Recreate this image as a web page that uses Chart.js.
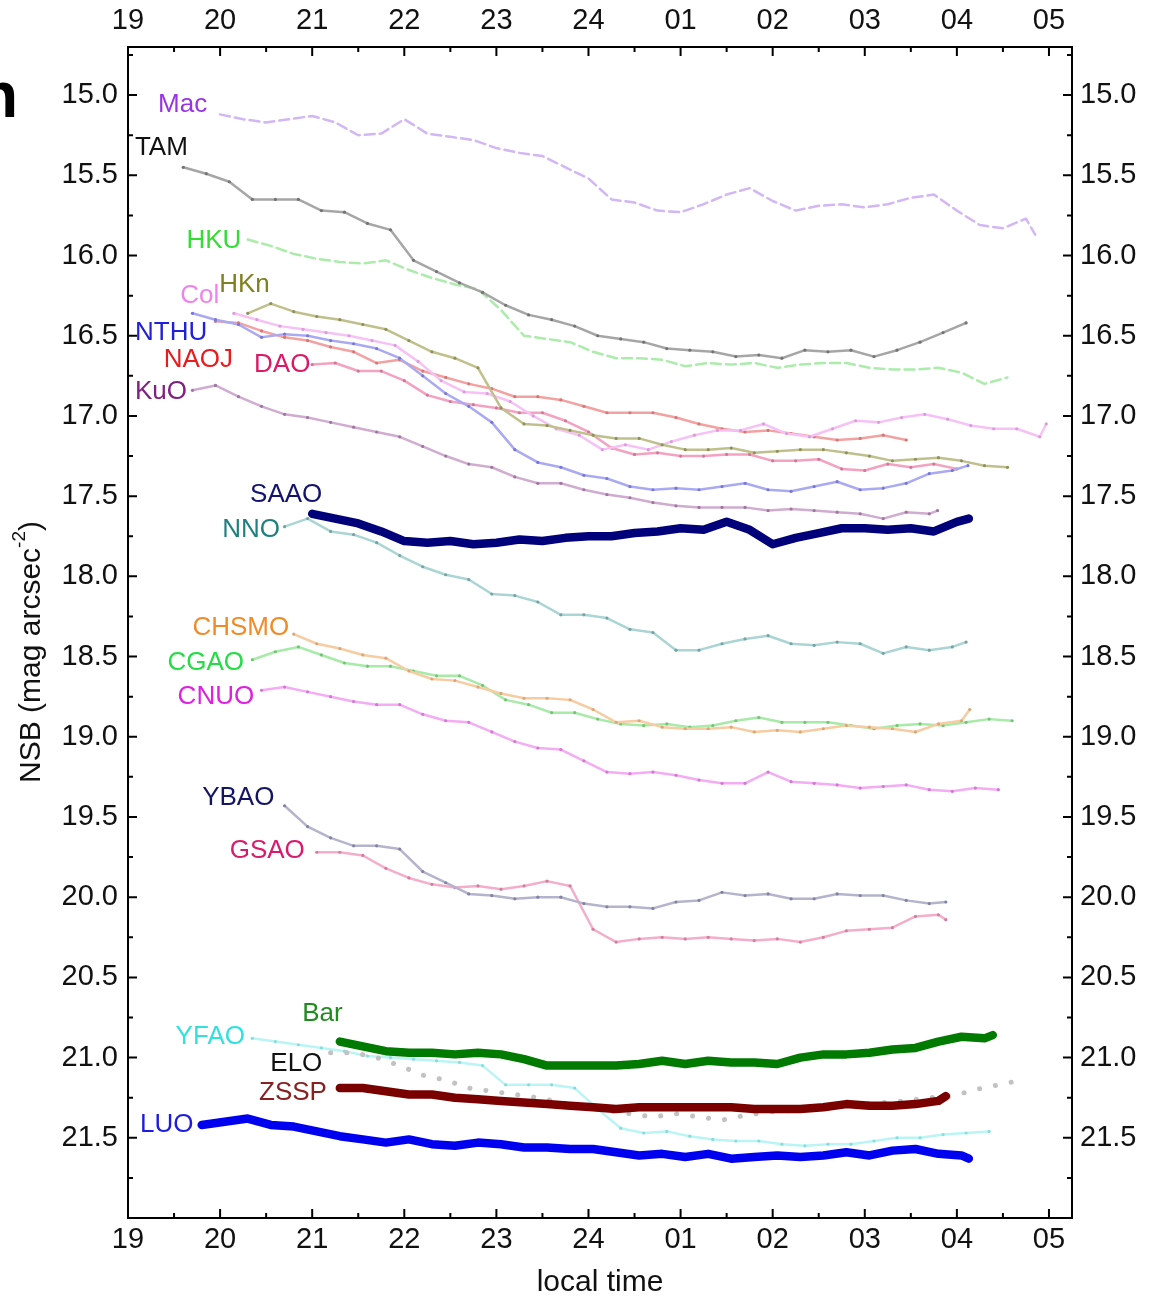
<!DOCTYPE html>
<html>
<head>
<meta charset="utf-8">
<script src="https://cdn.jsdelivr.net/npm/chart.js@4.4.1/dist/chart.umd.min.js"></script>
<style>
  html, body { margin: 0; padding: 0; background: #fff; }
  canvas { display: block; }
</style>
</head>
<body>
<canvas id="nsbChart" width="1153" height="1297"></canvas>
<script>
// local time in hours, 24 = midnight, 25 = 01 ...
const X_TICKS = [19, 20, 21, 22, 23, 24, 25, 26, 27, 28, 29];
const X_TICK_LABELS = ['19', '20', '21', '22', '23', '24', '01', '02', '03', '04', '05'];
const X_MINOR = [19.5, 20.5, 21.5, 22.5, 23.5, 24.5, 25.5, 26.5, 27.5, 28.5];
const Y_TICKS = [15.0, 15.5, 16.0, 16.5, 17.0, 17.5, 18.0, 18.5, 19.0, 19.5, 20.0, 20.5, 21.0, 21.5];
const Y_MINOR = [14.75, 15.25, 15.75, 16.25, 16.75, 17.25, 17.75, 18.25, 18.75, 19.25, 19.75, 20.25, 20.75, 21.25, 21.75];

const STEP = 0.25; // readings every quarter hour from the start time

const MAC = [15.12, 15.15, 15.17, 15.15, 15.13, 15.17, 15.25, 15.24, 15.15, 15.24, 15.26, 15.28, 15.33, 15.36, 15.38, 15.45, 15.52, 15.65, 15.67, 15.72, 15.73, 15.68, 15.62, 15.58, 15.66, 15.72, 15.69, 15.68, 15.70, 15.68, 15.64, 15.62, 15.72, 15.81, 15.83, 15.77, 15.87];
const TAM = [15.45, 15.49, 15.54, 15.65, 15.65, 15.65, 15.72, 15.73, 15.80, 15.84, 16.03, 16.10, 16.17, 16.23, 16.31, 16.37, 16.40, 16.44, 16.50, 16.52, 16.54, 16.58, 16.59, 16.60, 16.63, 16.62, 16.64, 16.59, 16.60, 16.59, 16.63, 16.59, 16.54, 16.48, 16.42];
const HKU = [15.90, 15.94, 15.99, 16.02, 16.04, 16.05, 16.03, 16.09, 16.14, 16.18, 16.21, 16.34, 16.50, 16.52, 16.54, 16.60, 16.64, 16.64, 16.65, 16.69, 16.67, 16.68, 16.67, 16.70, 16.68, 16.67, 16.67, 16.70, 16.71, 16.71, 16.70, 16.73, 16.80, 16.76];
const HKN = [16.36, 16.30, 16.35, 16.38, 16.40, 16.43, 16.46, 16.53, 16.60, 16.64, 16.70, 16.95, 17.05, 17.06, 17.09, 17.12, 17.14, 17.14, 17.18, 17.21, 17.21, 17.20, 17.23, 17.22, 17.21, 17.21, 17.23, 17.25, 17.28, 17.27, 17.26, 17.28, 17.31, 17.32];
const COL = [16.36, 16.40, 16.44, 16.46, 16.48, 16.50, 16.53, 16.56, 16.66, 16.78, 16.85, 16.86, 16.91, 17.00, 17.08, 17.12, 17.21, 17.18, 17.21, 17.16, 17.12, 17.09, 17.09, 17.05, 17.11, 17.13, 17.08, 17.03, 17.04, 17.01, 16.99, 17.02, 17.06, 17.08, 17.08, 17.13, 17.05];
const NTHU = [16.36, 16.40, 16.43, 16.51, 16.49, 16.50, 16.53, 16.55, 16.58, 16.64, 16.75, 16.86, 16.94, 17.04, 17.21, 17.29, 17.32, 17.37, 17.39, 17.44, 17.46, 17.45, 17.46, 17.44, 17.42, 17.46, 17.47, 17.44, 17.41, 17.46, 17.45, 17.42, 17.36, 17.34, 17.31];
const NAOJ = [16.41, 16.42, 16.47, 16.51, 16.53, 16.57, 16.60, 16.67, 16.65, 16.72, 16.76, 16.80, 16.83, 16.88, 16.88, 16.90, 16.94, 16.98, 16.98, 16.98, 17.01, 17.05, 17.08, 17.10, 17.09, 17.11, 17.13, 17.15, 17.14, 17.12, 17.15];
const DAO = [16.68, 16.67, 16.72, 16.72, 16.78, 16.87, 16.91, 16.93, 16.95, 16.98, 16.98, 17.03, 17.10, 17.20, 17.24, 17.23, 17.25, 17.25, 17.24, 17.24, 17.28, 17.28, 17.27, 17.33, 17.34, 17.30, 17.32, 17.30, 17.33];
const KUO = [16.84, 16.81, 16.88, 16.94, 16.99, 17.01, 17.04, 17.07, 17.10, 17.13, 17.19, 17.25, 17.30, 17.32, 17.38, 17.42, 17.42, 17.46, 17.49, 17.51, 17.54, 17.56, 17.57, 17.57, 17.57, 17.59, 17.58, 17.59, 17.60, 17.61, 17.64, 17.60, 17.61, 17.59];
const SAAO = [17.61, 17.64, 17.67, 17.72, 17.78, 17.79, 17.78, 17.80, 17.79, 17.77, 17.78, 17.76, 17.75, 17.75, 17.73, 17.72, 17.70, 17.71, 17.66, 17.71, 17.80, 17.76, 17.73, 17.70, 17.70, 17.71, 17.70, 17.72, 17.66, 17.64];
const NNO = [17.69, 17.64, 17.72, 17.74, 17.79, 17.87, 17.94, 17.99, 18.02, 18.11, 18.12, 18.16, 18.24, 18.24, 18.26, 18.33, 18.35, 18.46, 18.46, 18.42, 18.39, 18.37, 18.42, 18.43, 18.41, 18.42, 18.48, 18.44, 18.46, 18.44, 18.41];
const CHSMO = [18.36, 18.42, 18.45, 18.49, 18.51, 18.59, 18.64, 18.65, 18.69, 18.73, 18.76, 18.76, 18.77, 18.83, 18.91, 18.90, 18.94, 18.95, 18.95, 18.94, 18.97, 18.96, 18.97, 18.95, 18.93, 18.94, 18.95, 18.97, 18.92, 18.90, 18.83];
const CGAO = [18.52, 18.47, 18.44, 18.49, 18.54, 18.56, 18.56, 18.59, 18.62, 18.62, 18.68, 18.77, 18.80, 18.85, 18.85, 18.89, 18.92, 18.93, 18.92, 18.94, 18.93, 18.90, 18.88, 18.91, 18.91, 18.91, 18.93, 18.95, 18.93, 18.92, 18.93, 18.91, 18.89, 18.90];
const CNUO = [18.71, 18.69, 18.72, 18.75, 18.78, 18.80, 18.80, 18.86, 18.90, 18.91, 18.97, 19.03, 19.07, 19.08, 19.15, 19.22, 19.23, 19.22, 19.24, 19.27, 19.29, 19.29, 19.22, 19.28, 19.29, 19.30, 19.32, 19.31, 19.30, 19.33, 19.34, 19.32, 19.33];
const YBAO = [19.43, 19.56, 19.63, 19.68, 19.68, 19.70, 19.84, 19.91, 19.98, 19.99, 20.01, 20.00, 20.00, 20.04, 20.06, 20.06, 20.07, 20.03, 20.02, 19.97, 19.99, 19.98, 20.01, 20.01, 19.98, 19.99, 19.99, 20.02, 20.04, 20.03];
const GSAO = [19.72, 19.72, 19.74, 19.82, 19.88, 19.92, 19.94, 19.93, 19.95, 19.93, 19.90, 19.93, 20.20, 20.28, 20.26, 20.25, 20.26, 20.25, 20.26, 20.27, 20.26, 20.28, 20.25, 20.21, 20.20, 20.19, 20.12, 20.11, 20.14];
const BAR = [20.90, 20.93, 20.96, 20.97, 20.97, 20.98, 20.97, 20.98, 21.01, 21.05, 21.05, 21.05, 21.05, 21.04, 21.02, 21.04, 21.02, 21.03, 21.03, 21.04, 21.00, 20.98, 20.98, 20.97, 20.95, 20.94, 20.90, 20.87, 20.88, 20.86];
const ELO = [20.97, 20.97, 21.00, 21.05, 21.11, 21.14, 21.19, 21.21, 21.23, 21.25, 21.28, 21.31, 21.33, 21.35, 21.37, 21.35, 21.37, 21.39, 21.36, 21.34, 21.33, 21.31, 21.30, 21.29, 21.28, 21.27, 21.25, 21.24, 21.20, 21.17, 21.14];
const ZSSP = [21.19, 21.19, 21.21, 21.23, 21.23, 21.25, 21.26, 21.27, 21.28, 21.29, 21.30, 21.31, 21.32, 21.31, 21.31, 21.31, 21.31, 21.31, 21.32, 21.32, 21.32, 21.31, 21.29, 21.30, 21.30, 21.29, 21.27, 21.24];
const YFAO = [20.88, 20.90, 20.92, 20.94, 20.96, 20.99, 21.00, 21.01, 21.02, 21.03, 21.05, 21.17, 21.17, 21.17, 21.19, 21.32, 21.44, 21.47, 21.46, 21.49, 21.51, 21.52, 21.52, 21.54, 21.55, 21.54, 21.54, 21.52, 21.50, 21.50, 21.48, 21.47, 21.46];
const LUO = [21.42, 21.40, 21.38, 21.42, 21.43, 21.46, 21.49, 21.51, 21.53, 21.51, 21.54, 21.55, 21.53, 21.54, 21.56, 21.56, 21.57, 21.57, 21.59, 21.61, 21.60, 21.62, 21.60, 21.63, 21.62, 21.61, 21.62, 21.61, 21.59, 21.61, 21.58, 21.57, 21.60, 21.61, 21.63];

const STATIONS = ['SAAO', 'Bar', 'ZSSP', 'LUO', 'Mac', 'TAM', 'HKU', 'HKn', 'Col', 'NTHU', 'NAOJ', 'DAO', 'KuO',
  'NNO', 'CHSMO', 'CGAO', 'CNUO', 'YBAO', 'GSAO', 'ELO', 'YFAO'];
const VALUES = { Mac: MAC, TAM: TAM, HKU: HKU, HKn: HKN, Col: COL, NTHU: NTHU, NAOJ: NAOJ, DAO: DAO, KuO: KUO,
  SAAO: SAAO, NNO: NNO, CHSMO: CHSMO, CGAO: CGAO, CNUO: CNUO, YBAO: YBAO, GSAO: GSAO, Bar: BAR, ELO: ELO,
  ZSSP: ZSSP, YFAO: YFAO, LUO: LUO };
const START_TIME = { Mac: 20.0, TAM: 19.6, HKU: 20.3, HKn: 20.3, Col: 20.15, NTHU: 19.7, NAOJ: 19.95, DAO: 21.0,
  KuO: 19.7, SAAO: 21.0, NNO: 20.7, CHSMO: 20.8, CGAO: 20.35, CNUO: 20.45, YBAO: 20.7, GSAO: 21.05, Bar: 21.3,
  ELO: 21.2, ZSSP: 21.3, YFAO: 20.35, LUO: 19.8 };
// last reading when it falls off the quarter-hour grid
const END_TIME = { Mac: 28.85, Col: 28.97, NTHU: 28.12, KuO: 27.79, SAAO: 28.13, NNO: 28.1, CHSMO: 28.14,
  YBAO: 27.88, GSAO: 27.88, Bar: 28.39, ZSSP: 27.88, LUO: 28.13 };

const FONT = '"Liberation Sans", Arial, Helvetica, sans-serif';

// line, dots, label colour; thick lines are the dark-site stations
const STYLE = {
  Mac:   { line: '#d2b6f5', width: 2.5, dash: [10, 5], text: '#9933e6', at: [19.86, 15.06] },
  TAM:   { line: '#a6a6a6', dot: '#747474', width: 2.5, text: '#111111', at: [19.65, 15.33] },
  HKU:   { line: '#abecab', width: 2.5, dash: [10, 5], text: '#33dd33', at: [20.23, 15.91] },
  HKn:   { line: '#c0c08c', dot: '#90905c', width: 2.5, text: '#808020', at: [20.54, 16.18] },
  Col:   { line: '#f6c2f6', dot: '#dc9cdc', width: 2.5, text: '#ee82ee', at: [19.99, 16.25] },
  NTHU:  { line: '#aaaaf3', dot: '#7878d6', width: 2.5, text: '#2020d8', at: [19.86, 16.48] },
  NAOJ:  { line: '#f3a2a2', dot: '#d67676', width: 2.5, text: '#e81c1c', at: [20.14, 16.65] },
  DAO:   { line: '#f3a2c0', dot: '#d47698', width: 2.5, text: '#dc1a64', at: [20.98, 16.68] },
  KuO:   { line: '#d0acd0', dot: '#9e769e', width: 2.5, text: '#802080', at: [19.64, 16.85] },
  SAAO:  { line: '#00007a', width: 8.5, text: '#141470', at: [21.11, 17.49] },
  NNO:   { line: '#abd5d5', dot: '#76a4a4', width: 2.5, text: '#208080', at: [20.65, 17.71] },
  CHSMO: { line: '#f8cca2', dot: '#dca676', width: 2.5, text: '#f08c28', at: [20.75, 18.32] },
  CGAO:  { line: '#a8eaa8', dot: '#76c476', width: 2.5, text: '#22dd44', at: [20.26, 18.54] },
  CNUO:  { line: '#f4acf4', dot: '#d478d4', width: 2.5, text: '#e020e0', at: [20.37, 18.75] },
  YBAO:  { line: '#b4b4cd', dot: '#8282a4', width: 2.5, text: '#141464', at: [20.59, 19.38] },
  GSAO:  { line: '#f4aeca', dot: '#d47e9e', width: 2.5, text: '#d81c6c', at: [20.92, 19.71] },
  Bar:   { line: '#007a00', width: 8.5, text: '#208c20', at: [21.33, 20.73] },
  ELO:   { line: '#c2c2c2', width: 5, dash: [0.1, 16], text: '#111111', at: [21.11, 21.04] },
  ZSSP:  { line: '#7a0000', width: 8.5, text: '#882020', at: [21.16, 21.22] },
  YFAO:  { line: '#baf5f5', dot: '#88dcdc', width: 2.5, text: '#33e0e0', at: [20.27, 20.87] },
  LUO:   { line: '#0000f0', width: 8.5, text: '#1c1ce0', at: [19.71, 21.42] }
};

function toPoints(name) {
  const values = VALUES[name];
  const start = START_TIME[name];
  const end = END_TIME[name];
  return values.map((v, i) => ({
    x: (end !== undefined && i === values.length - 1) ? end : start + i * STEP,
    y: v
  }));
}

function fixTicks(values) {
  return scale => { scale.ticks = values.map(v => ({ value: v })); };
}

const datasets = STATIONS.map(name => {
  const s = STYLE[name];
  return {
    label: name,
    data: toPoints(name),
    xAxisID: 'x',
    yAxisID: 'y',
    borderColor: s.line,
    borderWidth: s.width,
    borderDash: s.dash || [],
    borderCapStyle: 'round',
    borderJoinStyle: 'round',
    pointRadius: s.dot ? 1.6 : 0,
    pointBackgroundColor: s.dot,
    pointBorderWidth: 0,
    tension: 0,
    fill: false,
    order: s.width > 6 ? 0 : 1
  };
});

const decorations = {
  id: 'decorations',
  afterDraw(chart) {
    const ctx = chart.ctx;
    const { x, y } = chart.scales;
    const a = chart.chartArea;
    ctx.save();

    // frame and inward ticks
    ctx.strokeStyle = '#000';
    ctx.lineWidth = 2;
    ctx.strokeRect(a.left, a.top, a.right - a.left, a.bottom - a.top);
    const tickX = (v, len) => {
      const px = x.getPixelForValue(v);
      ctx.beginPath();
      ctx.moveTo(px, a.bottom); ctx.lineTo(px, a.bottom - len);
      ctx.moveTo(px, a.top); ctx.lineTo(px, a.top + len);
      ctx.stroke();
    };
    const tickY = (v, len) => {
      const py = y.getPixelForValue(v);
      ctx.beginPath();
      ctx.moveTo(a.left, py); ctx.lineTo(a.left + len, py);
      ctx.moveTo(a.right, py); ctx.lineTo(a.right - len, py);
      ctx.stroke();
    };
    X_TICKS.forEach(v => tickX(v, 9));
    X_MINOR.forEach(v => tickX(v, 5));
    Y_TICKS.forEach(v => tickY(v, 9));
    Y_MINOR.forEach(v => tickY(v, 5));

    // station names
    ctx.font = `26px ${FONT}`;
    ctx.textAlign = 'right';
    ctx.textBaseline = 'middle';
    STATIONS.forEach(name => {
      const s = STYLE[name];
      ctx.fillStyle = s.text;
      ctx.fillText(name, x.getPixelForValue(s.at[0]), y.getPixelForValue(s.at[1]));
    });

    // axis titles
    ctx.fillStyle = '#111';
    ctx.textAlign = 'center';
    ctx.font = `30px ${FONT}`;
    ctx.fillText('local time', (a.left + a.right) / 2, 1283);

    ctx.translate(32, 652);
    ctx.rotate(-Math.PI / 2);
    ctx.textAlign = 'left';
    const main = 'NSB (mag arcsec';
    const sup = '-2';
    const close = ')';
    ctx.font = `30px ${FONT}`;
    const wMain = ctx.measureText(main).width;
    const wClose = ctx.measureText(close).width;
    ctx.font = `19px ${FONT}`;
    const wSup = ctx.measureText(sup).width;
    let cx = -(wMain + wSup + wClose) / 2;
    ctx.font = `30px ${FONT}`;
    ctx.fillText(main, cx, 0);
    cx += wMain;
    ctx.font = `19px ${FONT}`;
    ctx.fillText(sup, cx, -12);
    cx += wSup;
    ctx.font = `30px ${FONT}`;
    ctx.fillText(close, cx, 0);
    ctx.restore();

    // edge of the neighbouring panel letter
    ctx.save();
    ctx.fillStyle = '#000';
    ctx.font = `bold 64px ${FONT}`;
    ctx.textAlign = 'right';
    ctx.textBaseline = 'alphabetic';
    ctx.fillText('n', 18, 117);
    ctx.restore();
  }
};

const tickFont = { family: FONT, size: 29 };

function xAxis(position, height, padding) {
  return {
    type: 'linear',
    position: position,
    min: 19,
    max: 29.25,
    afterBuildTicks: fixTicks(X_TICKS),
    afterFit: scale => { scale.height = height; },
    grid: { display: false, drawTicks: false },
    border: { display: false },
    ticks: {
      font: tickFont,
      color: '#111',
      padding: padding,
      maxRotation: 0,
      autoSkip: false,
      callback: v => X_TICK_LABELS[X_TICKS.indexOf(v)]
    }
  };
}

function yAxis(position, width, padding) {
  return {
    type: 'linear',
    position: position,
    reverse: true,
    min: 14.7,
    max: 22.0,
    afterBuildTicks: fixTicks(Y_TICKS),
    afterFit: scale => { scale.width = width; },
    grid: { display: false, drawTicks: false },
    border: { display: false },
    ticks: {
      font: tickFont,
      color: '#111',
      padding: padding,
      autoSkip: false,
      callback: v => v.toFixed(1)
    }
  };
}

new Chart(document.getElementById('nsbChart'), {
  type: 'line',
  data: { datasets },
  options: {
    responsive: false,
    devicePixelRatio: 1,
    animation: false,
    layout: { padding: 0 },
    plugins: {
      legend: { display: false },
      tooltip: { enabled: false }
    },
    scales: {
      x: xAxis('bottom', 79, 5),
      xTop: xAxis('top', 47, 9),
      y: yAxis('left', 128, 10),
      yRight: yAxis('right', 81, 8)
    }
  },
  plugins: [decorations]
});
</script>
</body>
</html>
